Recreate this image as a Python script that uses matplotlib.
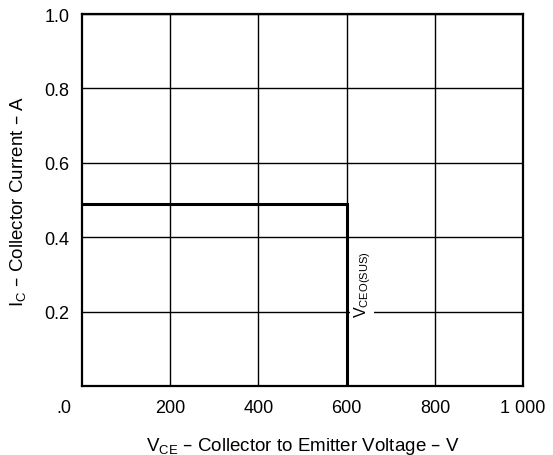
import matplotlib.pyplot as plt

plt.rcParams['font.family'] = ['Liberation Sans', 'DejaVu Sans']

# safe operating limit
vce = [0, 600, 600]
ic = [0.49, 0.49, 0.0]

xticks = [200, 400, 600, 800, 1000]
xlabels = ['200', '400', '600', '800', '1 000']
yticks = [0.2, 0.4, 0.6, 0.8, 1.0]
ylabels = ['0.2', '0.4', '0.6', '0.8', '1.0']

fig = plt.figure(figsize=(5.53, 4.56), dpi=100)
ax = fig.add_axes([0.148, 0.151, 0.798, 0.816])

ax.set_xlim(0, 1000)
ax.set_ylim(0, 1.0)
ax.set_xticks(xticks)
ax.set_xticklabels(xlabels)
ax.set_yticks(yticks)
ax.set_yticklabels(ylabels)
ax.tick_params(length=0, labelsize=13, pad=9)
ax.grid(True, color='black', linewidth=1.0)
for s in ax.spines.values():
    s.set_linewidth(1.6)

# limit line drawn above the label's white box
ax.plot(vce, ic, color='black', linewidth=2.2, solid_joinstyle='miter', zorder=4)

ax.text(-0.04, -0.058, '.0', transform=ax.transAxes, fontsize=13,
        ha='center', va='center')
ax.text(612, 0.275, r'V$\mathregular{_{CEO(SUS)}}$', rotation=90, fontsize=11.5,
        ha='left', va='center', zorder=3,
        bbox=dict(facecolor='white', edgecolor='none', pad=1))

ax.set_xlabel(r'V$\mathregular{_{CE}}$ – Collector to Emitter Voltage – V', fontsize=13.5, labelpad=14)
ax.set_ylabel(r'I$\mathregular{_{C}}$ – Collector Current – A', fontsize=13.5, labelpad=12)

fig.savefig('out.png', dpi=100)
